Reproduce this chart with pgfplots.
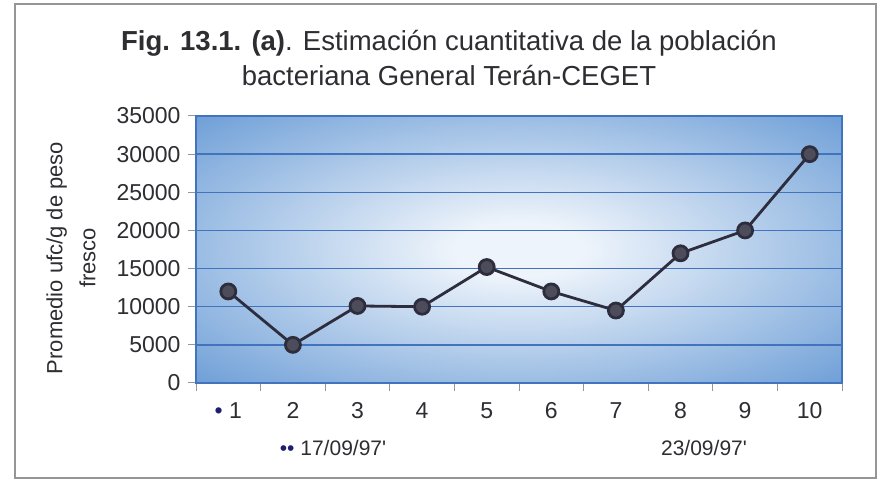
\documentclass[border=0pt]{standalone}
\usepackage{fontspec}
\setmainfont{Liberation Sans}
\usepackage{pgfplots}
\pgfplotsset{compat=1.18}

\definecolor{gridblue}{RGB}{65,115,190}
\definecolor{bgout}{RGB}{100,152,212}
\definecolor{bgin}{RGB}{238,244,251}
\definecolor{linedark}{RGB}{45,45,62}
\definecolor{txtgray}{RGB}{45,45,50}
\definecolor{navy}{RGB}{30,30,110}
\definecolor{framegray}{RGB}{150,150,150}

\pgfdeclareradialshading{plotbg}{\pgfpoint{0bp}{0bp}}{color(0bp)=(bgin); color(5bp)=(bgin); color(38bp)=(bgout); color(72bp)=(bgout)}

\begin{document}
\begin{tikzpicture}
\useasboundingbox (0,0) rectangle (887pt,482pt);
\draw[framegray, line width=1.5pt] (15pt,4pt) rectangle (876pt,478pt);

\node[txtgray, align=center, font=\fontsize{27.5}{35}\selectfont] at (449pt,424pt)
  {\textbf{Fig. 13.1. (a)}. Estimación cuantitativa de la población\\bacteriana General Terán-CEGET};

\node[txtgray, align=center, rotate=90, font=\fontsize{22}{33}\selectfont] at (71pt,224pt)
  {Promedio ufc/g de peso\\fresco};

\begin{axis}[
    at={(196pt,99pt)}, anchor=south west,
    scale only axis,
    width=646pt, height=267pt,
    xmin=0.5, xmax=10.5,
    ymin=0, ymax=35000,
    axis background/.style={shading=plotbg},
    axis line style={draw=gridblue, line width=1.2pt},
    ytick={0,5000,...,35000},
    scaled y ticks=false,
    xtick={0.5,1.5,...,10.5},
    x tick label as interval,
    xticklabels={{\textcolor{navy}{•} 1},2,3,4,5,6,7,8,9,10},
    tick pos=left,
    tick align=outside,
    major tick length=8pt,
    tick style={draw=framegray, line width=1pt},
    ymajorgrids,
    grid style={draw=gridblue, line width=1.3pt},
    tick label style={font=\fontsize{23}{26}\selectfont, text=txtgray},
    xticklabel style={yshift=-8pt},
    yticklabel style={xshift=-4pt},
    /pgf/number format/1000 sep={},
    /pgf/number format/assume math mode=true,
]
\addplot[linedark, line width=2.8pt, mark=*, mark size=7.5pt,
    mark options={fill=linedark!85!white, draw=linedark}]
    coordinates {(1,12000) (2,5000) (3,10100) (4,10000) (5,15200)
                 (6,12000) (7,9500) (8,17000) (9,20000) (10,30000)};
\end{axis}

\node[txtgray, font=\fontsize{21}{26}\selectfont] at (333pt,34pt)
  {\textcolor{navy}{••} 17/09/97\textquotesingle};
\node[txtgray, font=\fontsize{21}{26}\selectfont] at (704pt,34pt) {23/09/97\textquotesingle};
\end{tikzpicture}
\end{document}
